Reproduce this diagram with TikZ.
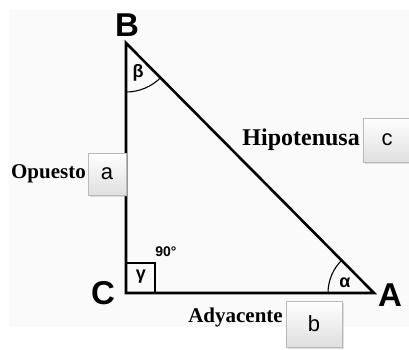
\documentclass[tikz,border=0pt]{standalone}
\usepackage{fontspec}
\setmainfont{Liberation Serif}
\setsansfont{Liberation Sans}
\usetikzlibrary{shadows}
\begin{document}
\begin{tikzpicture}[x=1pt,y=1pt,
  side/.style={line width=2.6pt, line join=miter},
  thinline/.style={line width=1.1pt},
  valbox/.style={draw=gray!55, top color=white, bottom color=gray!25,
    drop shadow={shadow xshift=2pt,shadow yshift=-2pt,opacity=0.25},
    font=\sffamily\fontsize{22}{22}\selectfont, inner sep=0pt},
  vtx/.style={font=\sffamily\bfseries\fontsize{33}{33}\selectfont, inner sep=0pt},
  sidelbl/.style={font=\bfseries\fontsize{21}{21}\selectfont, anchor=east, inner sep=0pt},
  greek/.style={font=\sffamily\bfseries\fontsize{18}{18}\selectfont, inner sep=0pt}]
\useasboundingbox (0,0) rectangle (409,349);
\fill[black!2] (9,22) rectangle (409,339);
% vertices
\coordinate (B) at (126,306);
\coordinate (C) at (126,56);
\coordinate (A) at (374,56);
% right-angle square
\draw[thinline] (C) rectangle (155,86);
% angle arcs
\draw[thinline] (126,257) arc[start angle=270,end angle=314.8,radius=49];
\draw[thinline] (328,56) arc[start angle=180,end angle=134.8,radius=46];
% triangle
\draw[side] (B) -- (C) -- (A) -- cycle;
% vertex labels
\node[vtx] (lB) at (127,324) {B};
\node[vtx] (lC) at (103,56) {C};
\node[vtx] (lA) at (390,54) {A};
% angle labels
\node[greek] (gam) at (141,72) {γ};
\node[greek] (bet) at (138,276) {β};
\node[greek] (alp) at (345,66) {α};
\node[font=\sffamily\bfseries\fontsize{14}{14}\selectfont, inner sep=0pt] (ninety) at (166,97) {90°};
% value boxes
\node[valbox, minimum width=38pt, minimum height=42pt] (ba) at (107,175) {a};
\node[valbox, minimum width=48pt, minimum height=44pt] (bc) at (387,209) {c};
\node[valbox, minimum width=56pt, minimum height=46pt] (bb) at (314,25) {b};
% side labels
\node[sidelbl] (opu) at (86,175) {Opuesto};
\node[sidelbl, font=\bfseries\fontsize{24}{24}\selectfont] (hip) at (360,209) {Hipotenusa};
\node[sidelbl] (ady) at (283,32) {Adyacente};
\end{tikzpicture}
\end{document}
